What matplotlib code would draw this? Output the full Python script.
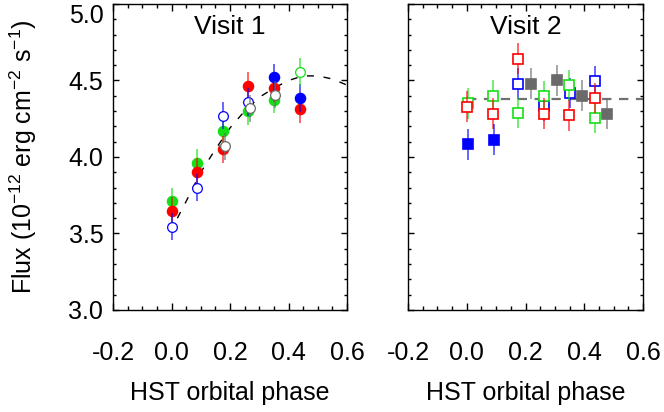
import matplotlib
matplotlib.use('Agg')
import matplotlib.pyplot as plt
from matplotlib.ticker import MultipleLocator, FormatStrFormatter

plt.rcParams['font.family'] = ['Liberation Sans', 'DejaVu Sans']
plt.rcParams['mathtext.fontset'] = 'custom'
plt.rcParams['mathtext.rm'] = 'Liberation Sans'
plt.rcParams['mathtext.it'] = 'Liberation Sans:italic'
plt.rcParams['mathtext.default'] = 'regular'
plt.rcParams['axes.unicode_minus'] = False

RED = '#ff0000'
GREEN = '#14e014'
BLUE = '#0000ff'
GRAY = '#6a6a6a'

# ---- Visit 1 (circles) ----
v1_green_x = [0.0, 0.087, 0.176, 0.262, 0.350]
v1_green_y = [3.71, 3.96, 4.17, 4.30, 4.375]
v1_green_e = [0.09, 0.09, 0.09, 0.09, 0.09]

v1_red_x = [0.0, 0.087, 0.176, 0.262, 0.350, 0.438]
v1_red_y = [3.65, 3.905, 4.05, 4.465, 4.45, 4.315]
v1_red_e = [0.09, 0.09, 0.09, 0.09, 0.09, 0.09]

v1_bluef_x = [0.350, 0.438]
v1_bluef_y = [4.52, 4.387]
v1_bluef_e = [0.09, 0.09]

v1_blueo_x = [0.0, 0.087, 0.176, 0.262]
v1_blueo_y = [3.545, 3.80, 4.27, 4.36]
v1_blueo_e = [0.09, 0.09, 0.09, 0.09]

v1_grayo_x = [0.182, 0.268, 0.355]
v1_grayo_y = [4.07, 4.318, 4.407]
v1_grayo_e = [0.09, 0.09, 0.09]

v1_greeno_x = [0.438]
v1_greeno_y = [4.555]
v1_greeno_e = [0.09]

fit_x = [0.02, 0.05, 0.10, 0.15, 0.20, 0.25, 0.30, 0.35, 0.40, 0.45, 0.50, 0.55, 0.60]
fit_y = [3.60, 3.71, 3.90, 4.05, 4.19, 4.30, 4.39, 4.45, 4.50, 4.53, 4.53, 4.51, 4.47]

# ---- Visit 2 (squares) ----
v2_blueo_x = [0.175, 0.262, 0.352, 0.436]
v2_blueo_y = [4.48, 4.335, 4.418, 4.494]
v2_blueo_e = [0.1, 0.1, 0.1, 0.1]

v2_greeno_x = [0.004, 0.090, 0.175, 0.262, 0.348, 0.436]
v2_greeno_y = [4.35, 4.40, 4.29, 4.398, 4.468, 4.257]
v2_greeno_e = [0.1, 0.1, 0.1, 0.1, 0.1, 0.1]

v2_redo_x = [0.0, 0.090, 0.175, 0.262, 0.348, 0.436]
v2_redo_y = [4.33, 4.283, 4.642, 4.283, 4.272, 4.385]
v2_redo_e = [0.1, 0.1, 0.1, 0.1, 0.1, 0.1]

v2_bluef_x = [0.004, 0.093]
v2_bluef_y = [4.083, 4.113]
v2_bluef_e = [0.1, 0.1]

v2_gray_x = [0.220, 0.306, 0.393, 0.477]
v2_gray_y = [4.479, 4.50, 4.40, 4.283]
v2_gray_e = [0.1, 0.1, 0.1, 0.1]

flat_x = [0.0, 0.6]
flat_y = [4.38, 4.38]

fig = plt.figure(figsize=(6.64, 4.12), dpi=100)
ax1 = fig.add_axes([0.1702, 0.2476, 0.3524, 0.7427])
ax2 = fig.add_axes([0.6145, 0.2476, 0.3539, 0.7427])


def pts(ax, x, y, e, color, marker, filled, ms, z):
    ax.errorbar(x, y, yerr=e, fmt='none', ecolor=color, elinewidth=1.4,
                alpha=0.6, capsize=0, zorder=z)
    ax.plot(x, y, linestyle='none', marker=marker, ms=ms,
            mfc=color if filled else 'white', mec=color,
            mew=0.9 if marker == 'o' else 1.2, zorder=z + 0.5)


ax1.plot(fit_x, fit_y, color='black', lw=1.0, linestyle=(0, (5, 7)), zorder=1)
pts(ax1, v1_green_x, v1_green_y, v1_green_e, GREEN, 'o', True, 7.4, 2)
pts(ax1, v1_red_x, v1_red_y, v1_red_e, RED, 'o', True, 7.4, 3)
pts(ax1, v1_bluef_x, v1_bluef_y, v1_bluef_e, BLUE, 'o', True, 7.4, 4)
pts(ax1, v1_blueo_x, v1_blueo_y, v1_blueo_e, BLUE, 'o', False, 7.0, 5)
pts(ax1, v1_grayo_x, v1_grayo_y, v1_grayo_e, GRAY, 'o', False, 7.0, 6)
pts(ax1, v1_greeno_x, v1_greeno_y, v1_greeno_e, GREEN, 'o', False, 7.0, 7)

ax2.plot(flat_x, flat_y, color='#707070', lw=1.6, linestyle=(0, (4.2, 3.4)), zorder=1)
pts(ax2, v2_blueo_x, v2_blueo_y, v2_blueo_e, BLUE, 's', False, 7.0, 2)
pts(ax2, v2_greeno_x, v2_greeno_y, v2_greeno_e, GREEN, 's', False, 7.0, 3)
pts(ax2, v2_redo_x, v2_redo_y, v2_redo_e, RED, 's', False, 7.0, 4)
pts(ax2, v2_bluef_x, v2_bluef_y, v2_bluef_e, BLUE, 's', True, 7.8, 5)
pts(ax2, v2_gray_x, v2_gray_y, v2_gray_e, GRAY, 's', True, 7.8, 6)

for ax, title in [(ax1, 'Visit 1'), (ax2, 'Visit 2')]:
    ax.set_xlim(-0.2, 0.6)
    ax.set_ylim(3.0, 5.0)
    ax.xaxis.set_major_locator(MultipleLocator(0.2))
    ax.xaxis.set_minor_locator(MultipleLocator(0.05))
    ax.yaxis.set_major_locator(MultipleLocator(0.5))
    ax.yaxis.set_minor_locator(MultipleLocator(0.1))
    ax.xaxis.set_major_formatter(FormatStrFormatter('%.1f'))
    ax.yaxis.set_major_formatter(FormatStrFormatter('%.1f'))
    ax.tick_params(which='both', direction='in', top=True, right=True,
                   labelsize=18, colors='black', width=1.0)
    ax.tick_params(axis='x', which='major', length=5, pad=22)
    ax.tick_params(axis='x', which='minor', length=3)
    ax.tick_params(axis='y', which='major', length=4.3, pad=7)
    ax.tick_params(axis='y', which='minor', length=2.2)
    for s in ax.spines.values():
        s.set_linewidth(1.0)
    ax.set_xlabel('HST orbital phase', fontsize=18, labelpad=12)
    ax.text(0.5, 0.902, title, transform=ax.transAxes, ha='center',
            va='baseline', fontsize=19)

ax2.tick_params(axis='y', labelleft=False)

ax1.set_ylabel('Flux (10$^{-12}$ erg cm$^{-2}$ s$^{-1}$)', fontsize=18, va='center')
ax1.yaxis.set_label_coords(-0.385, 0.5)

fig.canvas.draw()
for lab in ax1.get_yticklabels():
    if lab.get_text() == '5.0':
        lab.set_va('top')

fig.savefig('out.png', dpi=100)
